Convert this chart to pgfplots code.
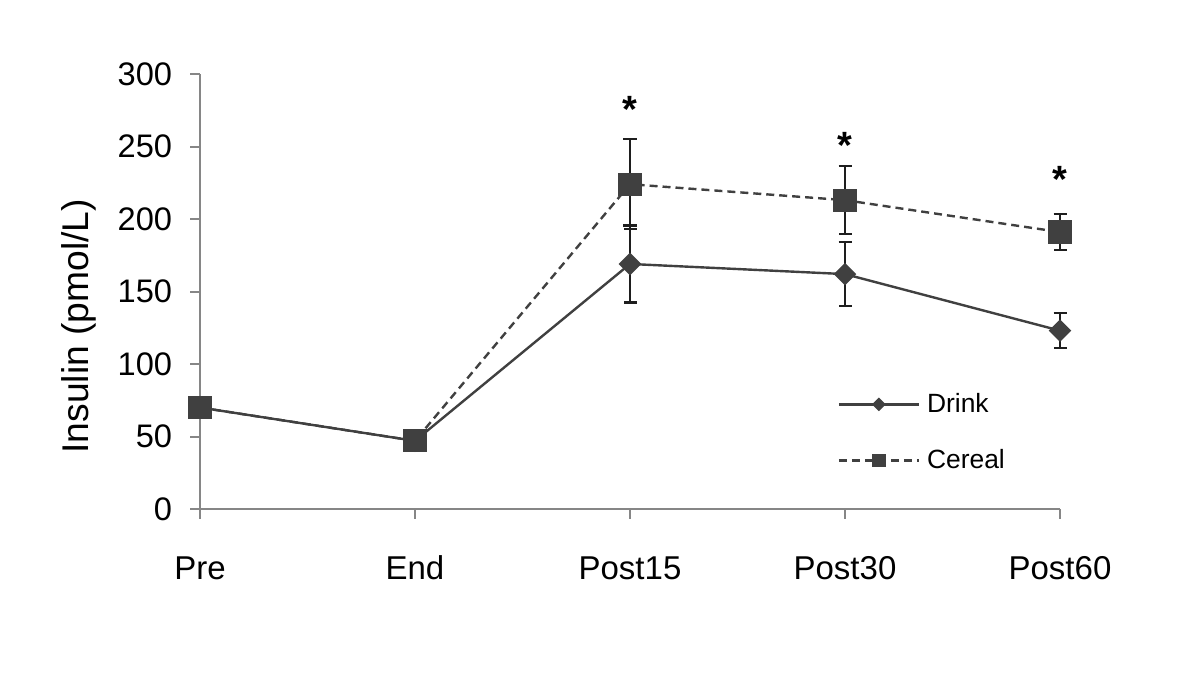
\documentclass[border=0pt]{standalone}
\usepackage{pgfplots}
\pgfplotsset{compat=1.18}
\usepackage{fontspec}
\setmainfont{Liberation Sans}
\definecolor{dk}{HTML}{404040}
\definecolor{ax}{HTML}{868686}
\definecolor{eb}{HTML}{1E1E1E}
\begin{document}
\begin{tikzpicture}
\useasboundingbox (-100pt,-84pt) rectangle (500pt,254.5pt);
\begin{axis}[
  at={(0pt,0pt)}, anchor=south west,
  scale only axis, width=430pt, height=217.5pt,
  xmin=0, xmax=4, ymin=0, ymax=300,
  clip=false,
  axis x line*=bottom, axis y line*=left,
  axis line style={ax, line width=1pt, -},
  xtick={0,1,2,3,4}, xticklabels={Pre,End,Post15,Post30,Post60},
  ytick={0,50,100,150,200,250,300},
  tick align=outside, major tick length=4.75pt,
  tick style={ax, line width=1pt},
  xticklabel style={font=\fontsize{16.5}{18}\selectfont, anchor=base, inner sep=0pt, yshift=-30.5pt},
  yticklabel style={font=\fontsize{16.3}{18}\selectfont, anchor=east, inner sep=0pt, xshift=-9pt},
  /pgf/number format/assume math mode=true,
  ylabel={Insulin (pmol/L)},
  ylabel style={font=\fontsize{18.6}{20}\selectfont, at={(rel axis cs:-0.141,0.42)}, anchor=center},
  legend image code/.code={\draw[mark repeat=2, mark phase=2, #1, /tikz/every mark/.append style={scale=0.53}] plot coordinates {(0pt,0pt) (20pt,0pt) (40pt,0pt)};},
  legend style={draw=none, fill=none, at={(rel axis cs:0.741,0.176)}, anchor=west,
    font=\fontsize{13.2}{15}\selectfont, inner sep=0pt, row sep=17pt, column sep=3.5pt,
    nodes={inner sep=0pt}},
  legend cell align=left,
]
% Drink error bars
\addplot[forget plot, only marks, mark=none,
  error bars/.cd, y dir=both, y explicit,
  error bar style={eb, line width=1.2pt, solid},
  error mark options={rotate=90, mark size=3.25pt, eb, line width=1.2pt, solid}]
  coordinates {(2,169) +- (0,26.5) (3,162) +- (0,22) (4,123) +- (0,12)};
% Drink
\addplot[dk, line width=1.2pt, mark=square*, mark size=3.4pt,
  mark options={rotate=45, fill=dk, draw=dk, solid}]
  coordinates {(0,70) (1,47) (2,169) (3,162) (4,123)};
\addlegendentry{Drink}
% Cereal error bars
\addplot[forget plot, only marks, mark=none,
  error bars/.cd, y dir=both, y explicit,
  error bar style={eb, line width=1.2pt, solid},
  error mark options={rotate=90, mark size=3.25pt, eb, line width=1.2pt, solid}]
  coordinates {(2,224) +- (0,31) (3,213) +- (0,23.5) (4,191) +- (0,12.5)};
% Cereal
\addplot[dk, line width=1.2pt, dash pattern=on 4pt off 2.5pt, mark=square*, mark size=5.2pt,
  mark options={fill=dk, draw=dk, solid}]
  coordinates {(0,70) (1,47) (2,224) (3,213) (4,191)};
\addlegendentry{Cereal}
\node[anchor=north, inner sep=0pt, font=\bfseries\fontsize{19}{21}\selectfont] at (axis cs:2,285.2) {*};
\node[anchor=north, inner sep=0pt, font=\bfseries\fontsize{19}{21}\selectfont] at (axis cs:3,260.3) {*};
\node[anchor=north, inner sep=0pt, font=\bfseries\fontsize{19}{21}\selectfont] at (axis cs:4,236.9) {*};
\end{axis}
\end{tikzpicture}
\end{document}
